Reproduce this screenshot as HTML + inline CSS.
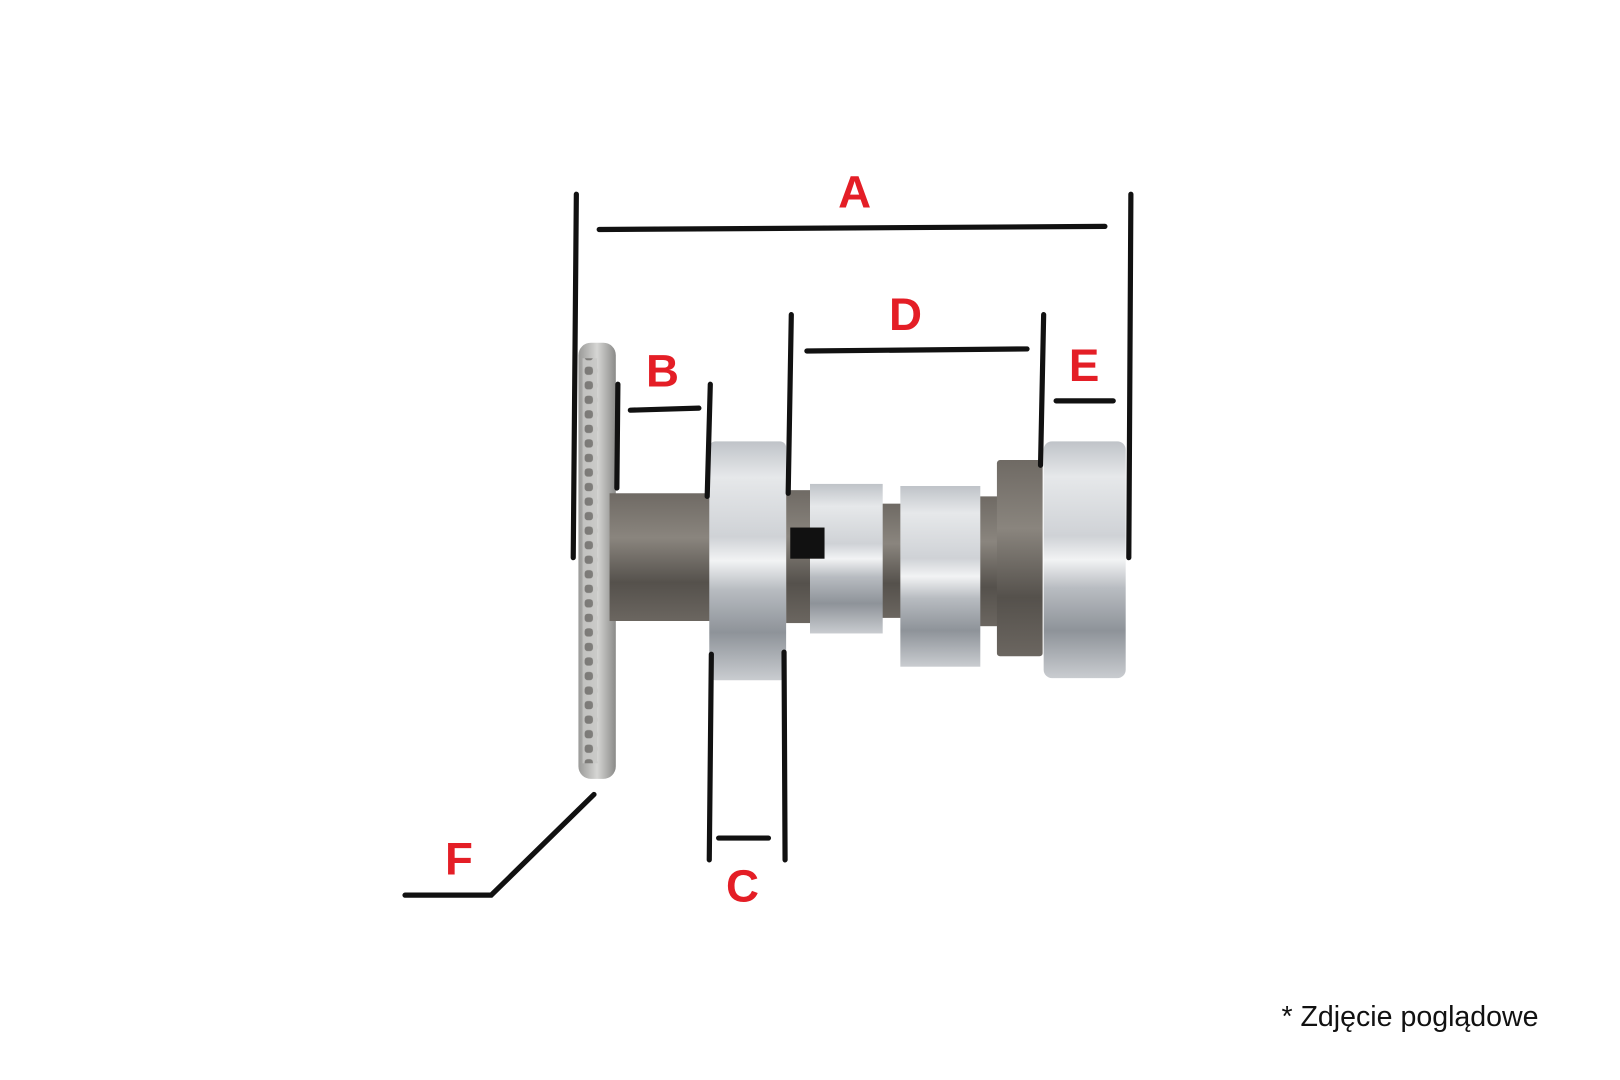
<!DOCTYPE html>
<html><head><meta charset="utf-8"><style>
html,body{margin:0;padding:0;background:#fff;}
svg{display:block;}
</style></head><body>
<svg width="1620" height="1080" viewBox="0 0 1560 1040" xmlns="http://www.w3.org/2000/svg">
<defs>
<linearGradient id="silver" x1="0" y1="0" x2="0" y2="1">
<stop offset="0" stop-color="#bfc3c8"/><stop offset="0.15" stop-color="#e6e8ea"/><stop offset="0.4" stop-color="#cfd2d6"/><stop offset="0.5" stop-color="#f2f3f4"/><stop offset="0.62" stop-color="#b8bcc1"/><stop offset="0.8" stop-color="#8e9399"/><stop offset="1" stop-color="#c9ccd0"/>
</linearGradient>
<linearGradient id="dark" x1="0" y1="0" x2="0" y2="1">
<stop offset="0" stop-color="#6f6a64"/><stop offset="0.35" stop-color="#8a857e"/><stop offset="0.7" stop-color="#55514c"/><stop offset="1" stop-color="#6b6660"/>
</linearGradient>
<linearGradient id="gear" x1="0" y1="0" x2="1" y2="0">
<stop offset="0" stop-color="#9a9a98"/><stop offset="0.5" stop-color="#d6d6d4"/><stop offset="1" stop-color="#8a8a88"/>
</linearGradient>
<pattern id="teeth" x="0" y="0" width="12" height="14" patternUnits="userSpaceOnUse">
<rect x="0" y="0" width="12" height="14" fill="#c8c8c6"/>
<rect x="2" y="3" width="8" height="8" rx="3" fill="#6e6c69"/>
</pattern>
</defs>
<g transform="translate(-3,0)">
<!-- camshaft picture -->
<rect x="560" y="330" width="36" height="420" rx="12" fill="url(#gear)"/>
<rect x="564" y="345" width="14" height="390" fill="url(#teeth)" opacity="0.8"/>
<rect x="590" y="475" width="98" height="123" fill="url(#dark)"/>
<rect x="760" y="472" width="28" height="128" fill="url(#dark)"/>
<rect x="850" y="485" width="24" height="110" fill="url(#dark)"/>
<rect x="945" y="478" width="22" height="125" fill="url(#dark)"/>
<rect x="686" y="425" width="74" height="230" rx="6" fill="url(#silver)"/>
<rect x="783" y="466" width="70" height="144" fill="url(#silver)"/>
<rect x="870" y="468" width="77" height="174" fill="url(#silver)"/>
<rect x="963" y="443" width="44" height="189" rx="3" fill="url(#dark)"/>
<rect x="1008" y="425" width="79" height="228" rx="8" fill="url(#silver)"/>
<rect x="764" y="508" width="33" height="30" fill="#111"/>
<!-- dimension lines -->
<g stroke="#111" stroke-width="5" stroke-linecap="round" fill="none">
<line x1="558" y1="187" x2="555" y2="537"/>
<line x1="1092" y1="187" x2="1090" y2="537"/>
<line x1="580" y1="221" x2="1067" y2="218"/>
<line x1="765" y1="303" x2="762" y2="475"/>
<line x1="1008" y1="303" x2="1005" y2="448"/>
<line x1="780" y1="338" x2="992" y2="336"/>
<line x1="598" y1="370" x2="597" y2="470"/>
<line x1="687" y1="370" x2="684" y2="478"/>
<line x1="610" y1="395" x2="676" y2="393"/>
<line x1="1020" y1="386" x2="1075" y2="386"/>
<line x1="688" y1="630" x2="686" y2="828"/>
<line x1="758" y1="628" x2="759" y2="828"/>
<line x1="695" y1="807" x2="743" y2="807"/>
<polyline points="575,765 476,862 393,862"/>
</g>
<g fill="#e41e26" font-family="Liberation Sans, sans-serif" font-weight="bold" font-size="44" text-anchor="middle">
<text x="826" y="200">A</text>
<text x="875" y="318">D</text>
<text x="641" y="372">B</text>
<text x="1047" y="367">E</text>
<text x="718" y="868">C</text>
<text x="445" y="842">F</text>
</g>
</g>
<text x="1234" y="988" font-family="Liberation Sans, sans-serif" font-size="27.5" fill="#111">* Zdjęcie poglądowe</text>
</svg>
</body></html>
